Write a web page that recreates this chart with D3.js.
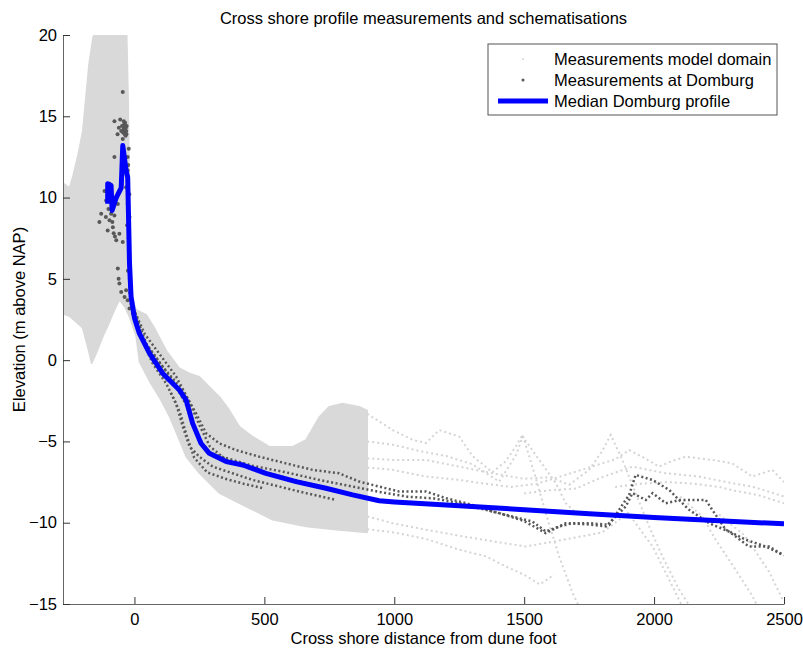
<!DOCTYPE html>
<html lang="en">
<head>
    <meta charset="UTF-8">
    <title>Cross shore profile</title>
    <script src="https://d3js.org/d3.v7.min.js"></script>
    <style>
        html, body {
            margin: 0;
            background: #fff;
        }
        text {
            font-family: "Liberation Sans", Arial, sans-serif;
            font-size: 16.5px;
            fill: #000;
        }
    </style>
</head>
<body>
    <div id="vis"></div>
    <script>

        /*
         *  DATA BLOCK
         */
        var xTicks = [0, 500, 1000, 1500, 2000, 2500];
        var yTicks = [-15, -10, -5, 0, 5, 10, 15, 20];

        var legendLabels = ["Measurements model domain", "Measurements at Domburg", "Median Domburg profile"];

        // outline of the dense cloud of model domain measurements [distance, elevation]
        var cloudOutline = [
            [-276, 10.9], [-250, 10.6], [-237, 11.3], [-215, 12.8], [-199, 14.1], [-185, 16.5], [-175, 18.2],
            [-160, 19.8], [-150, 20.3], [-30, 20.3], [-24, 16.0], [-20, 11.0], [-19, 6.0], [-12, 4.0], [6, 3.1],
            [45, 2.8], [80, 1.9], [122, 0.6], [173, -0.5], [212, -0.82], [250, -1.02], [288, -1.64], [327, -2.25],
            [365, -3.07], [404, -4.09], [455, -4.7], [519, -5.32], [609, -5.32], [660, -4.91], [712, -3.48],
            [750, -2.86], [801, -2.66], [865, -2.86], [896, -3.1], [896, -10.6], [776, -10.43], [660, -10.23],
            [532, -9.82], [429, -9.0], [327, -8.18], [250, -6.96], [199, -5.94], [170, -4.8], [135, -3.48],
            [100, -2.4], [58, -1.3], [19, -0.1], [6, 1.5], [-19, 2.66], [-38, 3.3], [-58, 3.7], [-83, 2.86],
            [-100, 2.2], [-120, 1.5], [-150, 0.3], [-165, -0.2], [-175, 0.5], [-200, 2.0], [-250, 2.7], [-276, 2.84]
        ];

        // separate model domain surveys offshore of the cloud
        var domainProfiles = [
            [[896, -3.3], [994, -4.3], [1071, -4.9], [1122, -5.1], [1173, -4.3], [1250, -4.7], [1301, -5.9], [1378, -6.9],
             [1430, -6.2], [1468, -5.3], [1494, -4.6], [1540, -7.0], [1583, -9.4], [1635, -12.1], [1686, -14.3], [1712, -15.2]],
            [[896, -5.0], [994, -5.2], [1100, -5.6], [1200, -5.9], [1300, -6.4], [1404, -7.47], [1470, -5.8], [1494, -4.7],
             [1558, -6.14], [1622, -7.57], [1660, -8.8], [1700, -9.4]],
            [[896, -6.04], [994, -6.14], [1122, -6.14], [1250, -6.55], [1378, -6.96], [1500, -7.3], [1600, -7.2], [1673, -7.67],
             [1750, -6.75], [1800, -5.6], [1833, -4.6], [1878, -6.14], [1929, -8.18], [1981, -10.23], [2032, -12.07],
             [2096, -14.1], [2140, -15.2]],
            [[896, -6.6], [994, -6.75], [1122, -7.16], [1250, -7.37], [1350, -7.6], [1450, -7.8], [1550, -7.6], [1650, -7.1],
             [1750, -6.6], [1850, -6.1], [1904, -5.53], [1960, -6.0], [2019, -6.55], [2070, -6.2], [2122, -5.94],
             [2224, -6.14], [2301, -6.35], [2378, -7.16], [2455, -6.75], [2500, -7.5]],
            [[1500, -8.2], [1600, -8.0], [1700, -7.9], [1800, -7.2], [1917, -6.55], [2045, -6.96], [2173, -7.16],
             [2301, -7.57], [2378, -7.78], [2500, -8.39]],
            [[1850, -7.8], [1950, -7.6], [2050, -7.5], [2150, -7.6], [2250, -7.8], [2301, -8.0], [2400, -8.3], [2500, -8.8]],
            [[896, -9.62], [994, -10.03], [1122, -10.43], [1250, -10.8], [1400, -11.2], [1506, -11.46], [1600, -11.2],
             [1700, -10.9], [1800, -10.6], [1900, -9.4], [1994, -11.46], [2058, -13.5], [2110, -15.2]],
            [[896, -10.4], [1000, -10.6], [1122, -11.0], [1250, -11.66], [1353, -12.07], [1430, -12.7], [1500, -13.2],
             [1560, -13.8], [1615, -13.2]],
            [[2100, -8.4], [2186, -9.62], [2237, -11.05], [2314, -12.9], [2378, -14.5], [2400, -15.2]],
            [[2250, -9.5], [2350, -10.8], [2442, -13.0], [2494, -14.7]]
        ];

        // Domburg surveys
        var domburgProfiles = [
            [[-20, 4.2], [-6, 3.27], [45, 1.02], [109, -0.41], [186, -1.84], [237, -3.27], [276, -4.5], [327, -5.12],
             [391, -5.53], [481, -5.94], [583, -6.35], [686, -6.75], [788, -6.96], [865, -7.47], [942, -7.78],
             [1019, -8.08], [1122, -8.08], [1199, -8.49], [1300, -8.9], [1378, -9.31], [1455, -9.62], [1532, -9.93],
             [1583, -10.54], [1635, -10.23], [1686, -10.03], [1750, -10.03], [1827, -10.13], [1865, -9.21],
             [1904, -8.29], [1929, -7.06], [1994, -7.37], [2058, -7.98], [2096, -8.6], [2135, -9.21], [2212, -10.03],
             [2288, -10.54], [2365, -11.46], [2442, -11.46], [2494, -11.97]],
            [[-15, 3.5], [19, 1.64], [70, -0.2], [122, -1.43], [160, -2.66], [186, -4.09], [212, -5.32], [250, -5.94],
             [301, -6.55], [378, -6.96], [455, -7.37], [558, -7.78], [660, -8.18], [776, -8.6]],
            [[-10, 3.0], [30, 1.3], [90, 0.0], [150, -1.3], [200, -2.8], [240, -4.6], [280, -5.6], [327, -5.9],
             [455, -6.5], [583, -6.9], [712, -7.37], [840, -7.78], [942, -8.1], [1050, -8.4], [1150, -8.5],
             [1250, -8.8], [1350, -9.2], [1404, -9.41], [1500, -9.9], [1583, -10.64], [1660, -10.03], [1740, -10.1],
             [1814, -10.23], [1840, -9.82], [1891, -9.0], [1917, -8.18], [1968, -8.6], [1994, -8.18], [2045, -8.8],
             [2100, -8.6], [2199, -8.6], [2224, -9.21], [2276, -10.43], [2353, -11.05], [2429, -11.46], [2500, -12.0]],
            [[-5, 3.2], [40, 1.6], [100, 0.3], [160, -1.0], [210, -2.5], [250, -4.0], [290, -5.3], [350, -6.1],
             [450, -6.7], [550, -7.1], [650, -7.5], [750, -7.9], [800, -8.1]],
            [[140, -2.0], [175, -3.2], [200, -4.6], [230, -6.0], [280, -6.9], [350, -7.3], [420, -7.6], [500, -7.9]]
        ];

        var domburgDunePoints = [
            [-77, 14.7], [-45, 16.5], [-51, 14.1], [-38, 14.3], [-32, 14.1], [-45, 13.6], [-40, 14.5], [-35, 14.0],
            [-42, 14.2], [-36, 14.6], [-30, 14.4], [-48, 14.4], [-60, 14.3], [-55, 14.8], [-65, 13.9], [-34, 13.8],
            [-39, 14.1], [-33, 14.3], [-44, 14.0], [-37, 13.9], [-31, 13.9], [-41, 14.7],
            [-96, 10.85], [-115, 10.4], [-109, 9.82], [-128, 9.0], [-135, 8.5], [-96, 8.6], [-83, 8.18], [-103, 7.98],
            [-70, 7.37], [-77, 8.9], [-64, 9.6], [-58, 10.4], [-77, 12.5], [-45, 11.87], [-26, 11.66], [-26, 12.5],
            [-32, 10.64], [-26, 9.62], [-19, 8.8], [-58, 7.78], [-45, 7.27], [-64, 5.63], [-58, 4.71], [-51, 4.19],
            [-38, 3.89], [-26, 3.68], [-19, 3.17], [-6, 2.86], [-61, 5.0], [-32, 4.3], [-90, 9.0], [-85, 8.5],
            [-100, 9.3], [-110, 8.8], [-80, 7.8], [-75, 7.6], [-22, 13.0], [-24, 12.0], [-20, 10.2],
            [-22, 7.5], [-20, 6.5], [-25, 5.5], [-18, 5.0], [-28, 8.3], [-21, 9.0], [-17, 4.5]
        ];

        // median profile
        var medianProfile = [
            [-103, 9.62], [-103, 10.85], [-90, 10.74], [-86, 9.2], [-70, 10.0], [-51, 10.6], [-45, 13.2], [-32, 11.66],
            [-26, 11.25], [-19, 5.94], [-13, 3.9], [0, 2.6], [19, 1.64], [58, 0.41], [109, -0.82], [173, -1.84],
            [199, -2.46], [224, -3.89], [256, -5.11], [288, -5.73], [353, -6.24], [417, -6.45], [506, -6.96],
            [622, -7.47], [737, -7.88], [840, -8.29], [942, -8.65], [1000, -8.72], [1250, -8.96], [1500, -9.2],
            [1750, -9.45], [2000, -9.68], [2250, -9.88], [2500, -10.07]
        ];

        /*
         *  DECLARATION BLOCK
         */
        var view_width = 803;
        var view_height = 648;

        var margin = {top: 35, bottom: 44, left: 63, right: 19};
        var width = view_width - margin.left - margin.right;
        var height = view_height - margin.top - margin.bottom;

        var svg = d3.select('#vis')
            .append('svg')
                .attr('width', view_width)
                .attr('height', view_height);

        var g = svg.append('g')
            .attr('transform', 'translate(' + margin.left + ',' + margin.top + ')');

        var x = d3.scaleLinear()
            .domain([-275, 2500])
            .range([0, width]);

        var y = d3.scaleLinear()
            .domain([-15, 20])
            .range([height, 0]);

        svg.append('defs').append('clipPath')
            .attr('id', 'plotclip')
            .append('rect')
                .attr('width', width)
                .attr('height', height);

        var line = d3.line()
            .x(function(d) { return x(d[0]); })
            .y(function(d) { return y(d[1]); });

        var plot = g.append('g').attr('clip-path', 'url(#plotclip)');

        // model domain cloud
        plot.append('path')
            .datum(cloudOutline)
            .attr('d', line.curve(d3.curveLinearClosed))
            .attr('fill', '#d9d9d9')
            .attr('stroke', '#d9d9d9')
            .attr('stroke-width', 1.5)
            .attr('stroke-linejoin', 'round');

        line.curve(d3.curveLinear);

        plot.selectAll('.domain-profile')
            .data(domainProfiles)
            .enter()
            .append('path')
                .attr('class', 'domain-profile')
                .attr('d', line)
                .attr('fill', 'none')
                .attr('stroke', '#d4d4d4')
                .attr('stroke-width', 2)
                .attr('stroke-dasharray', '2 3');

        // Domburg measurements
        plot.selectAll('.domburg-profile')
            .data(domburgProfiles)
            .enter()
            .append('path')
                .attr('class', 'domburg-profile')
                .attr('d', line)
                .attr('fill', 'none')
                .attr('stroke', '#585858')
                .attr('stroke-width', 2.5)
                .attr('stroke-dasharray', '2 2.5');

        plot.selectAll('.dune-point')
            .data(domburgDunePoints)
            .enter()
            .append('circle')
                .attr('class', 'dune-point')
                .attr('cx', function(d) { return x(d[0]); })
                .attr('cy', function(d) { return y(d[1]); })
                .attr('r', 2)
                .attr('fill', '#585858');

        // median
        plot.append('path')
            .datum(medianProfile)
            .attr('d', line)
            .attr('fill', 'none')
            .attr('stroke', '#0000ff')
            .attr('stroke-width', 5)
            .attr('stroke-linejoin', 'round');

        /*
         *  AXES
         */
        var xAxis = g.append('g')
            .attr('transform', 'translate(0,' + height + ')')
            .call(d3.axisBottom(x).tickValues(xTicks).tickFormat(d3.format('d'))
                .tickSizeInner(-7).tickSizeOuter(0).tickPadding(9));

        var yAxis = g.append('g')
            .call(d3.axisLeft(y).tickValues(yTicks).tickFormat(d3.format('d'))
                .tickSizeInner(-7).tickSizeOuter(0).tickPadding(6));

        [xAxis, yAxis].forEach(function(a) {
            a.select('.domain').attr('stroke', '#666');
            a.selectAll('.tick line').attr('stroke', '#333');
            a.selectAll('.tick text')
                .attr('font-family', '"Liberation Sans", Arial, sans-serif')
                .attr('font-size', 16.5)
                .attr('fill', '#000');
        });
        yAxis.selectAll('.tick text').attr('x', -6);

        svg.append('text')
            .attr('x', margin.left + width / 2)
            .attr('y', 24)
            .attr('text-anchor', 'middle')
            .text('Cross shore profile measurements and schematisations');

        svg.append('text')
            .attr('x', margin.left + width / 2)
            .attr('y', 644)
            .attr('text-anchor', 'middle')
            .text('Cross shore distance from dune foot');

        svg.append('text')
            .attr('transform', 'translate(25,' + (margin.top + height / 2) + ') rotate(-90)')
            .attr('text-anchor', 'middle')
            .text('Elevation (m above NAP)');

        /*
         *  LEGEND
         */
        var legend = svg.append('g')
            .attr('transform', 'translate(488,44)');

        legend.append('rect')
            .attr('width', 289)
            .attr('height', 71)
            .attr('fill', '#fff')
            .attr('stroke', '#555');

        var rows = legend.selectAll('.row')
            .data(legendLabels)
            .enter()
            .append('g')
                .attr('class', 'row')
                .attr('transform', function(d, i) { return 'translate(0,' + (15 + i * 21) + ')'; });

        rows.append('text')
            .attr('x', 66)
            .attr('dy', '0.35em')
            .text(function(d) { return d; });

        rows.filter(function(d, i) { return i === 0; })
            .append('circle').attr('cx', 35).attr('r', 1).attr('fill', '#d4d4d4');
        rows.filter(function(d, i) { return i === 1; })
            .append('circle').attr('cx', 35).attr('r', 1.5).attr('fill', '#585858');
        rows.filter(function(d, i) { return i === 2; })
            .append('line')
                .attr('x1', 10).attr('x2', 60)
                .attr('stroke', '#0000ff')
                .attr('stroke-width', 5);

    </script>
</body>
</html>
